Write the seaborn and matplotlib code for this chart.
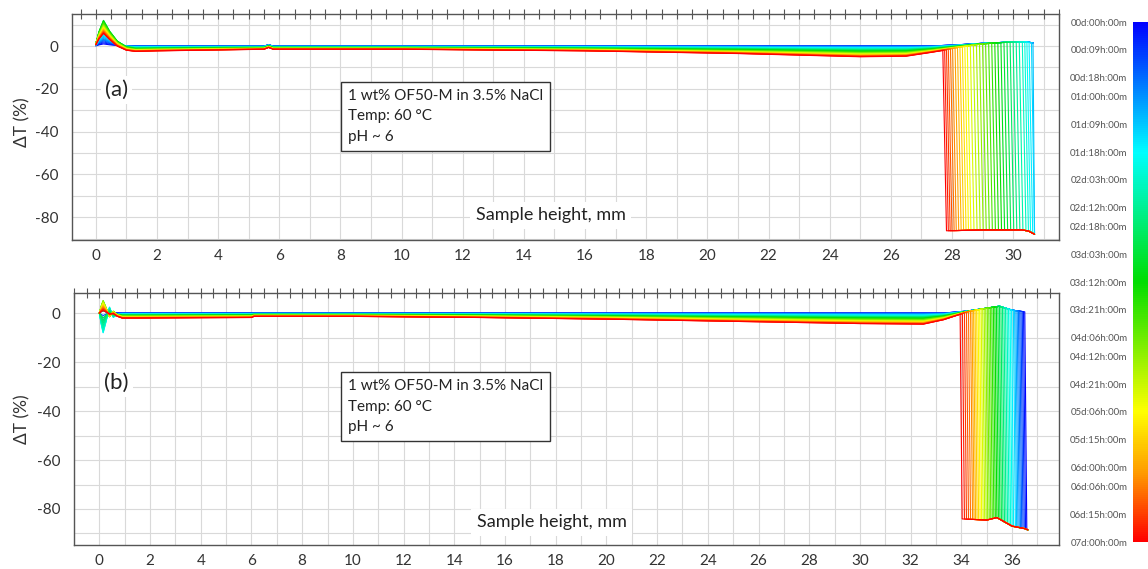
import numpy as np
import pandas as pd
import matplotlib
matplotlib.use("Agg")
import matplotlib.pyplot as plt
import seaborn as sns
from matplotlib.colors import LinearSegmentedColormap, Normalize
from matplotlib.cm import ScalarMappable
from matplotlib.ticker import MultipleLocator, FuncFormatter

# ==========================================
# Data
# ==========================================

# scan times (hours), same for both panels
times = [0, 4, 8, 12, 16, 20, 24, 28, 32, 36, 40, 44, 48, 52, 56, 60, 64, 68, 72, 76, 80,
         84, 88, 92, 96, 100, 104, 108, 112, 116, 120, 124, 128, 132, 136, 140, 144,
         148, 152, 156, 160, 164, 168]

# colorbar
cbar_hours = [0, 9, 18, 24, 33, 42, 51, 60, 66, 75, 84, 93, 102, 108, 117, 126, 135,
              144, 150, 159, 168]
cbar_labels = ["00d:00h:00m", "00d:09h:00m", "00d:18h:00m", "01d:00h:00m", "01d:09h:00m",
               "01d:18h:00m", "02d:03h:00m", "02d:12h:00m", "02d:18h:00m", "03d:03h:00m",
               "03d:12h:00m", "03d:21h:00m", "04d:06h:00m", "04d:12h:00m", "04d:21h:00m",
               "05d:06h:00m", "05d:15h:00m", "06d:00h:00m", "06d:06h:00m", "06d:15h:00m",
               "07d:00h:00m"]

nan = np.nan

# ---- panel (a) ----
# clarification front position (mm) per scan, nan = no front yet
front_a = [nan, nan, nan, nan, nan, nan, nan, nan,
           30.65, 30.6, 30.52, 30.45, 30.38, 30.3, 30.2, 30.1,
           30.0, 29.9, 29.8, 29.7, 29.6, 29.5, 29.4, 29.3, 29.2,
           29.1, 29.0, 28.9, 28.8, 28.7, 28.6, 28.5, 28.42, 28.34,
           28.26, 28.18, 28.1, 28.02, 27.95, 27.88, 27.82, 27.76, 27.7]
# height of the entry peak near 0.25 mm
peak_a = [1, 1.5, 2, 2.5, 3, 3, 3.5, 4,
          4.5, 5, 5.5, 6, 7, 8, 9, 10,
          10.5, 11, 11.5, 12, 12, 11.5, 11, 11, 10.5,
          10, 10, 9.5, 9.5, 9, 9, 8.5, 8.5, 8,
          8, 7.5, 7.5, 7, 7, 6.5, 6.5, 6, 6]
# deepest sag of the baseline around 25 mm
sag_a = [0, 0, 0, 0, -0.1, -0.2, -0.3, -0.5,
         -0.6, -0.8, -0.9, -1.0, -1.2, -1.3, -1.5, -1.6,
         -1.8, -1.9, -2.1, -2.2, -2.4, -2.5, -2.7, -2.8, -3.0,
         -3.1, -3.2, -3.4, -3.5, -3.6, -3.8, -3.9, -4.0, -4.1,
         -4.2, -4.3, -4.4, -4.5, -4.6, -4.7, -4.8, -4.9, -5.0]

# profile shape (a)
knot_x_a = [0.0, 0.1, 0.25, 0.45, 0.7, 1.0, 1.3, 2.0, 5.5, 5.65, 5.8, 10.0, 16.0, 21.0,
            25.0, 26.5, 27.3, 28.2, 29.0, 29.8, 30.4, 30.65]
peak_shape_a = [0.1, 0.55, 1.0, 0.6, 0.25, 0.05, 0, 0, 0, 0, 0, 0, 0, 0,
                0, 0, 0, 0, 0, 0, 0, 0]
sag_shape_a = [0, 0, 0, 0.1, 0.3, 0.45, 0.5, 0.45, 0.3, 0.25, 0.3, 0.3, 0.45, 0.7,
               1.0, 0.95, 0.6, 0.3, 0.1, 0, 0, 0]
bump_a = [0, 0, 0, 0, 0, 0, 0, 0, 0, 0.6, 0, 0, 0, 0,
          0, 0, 0, 0.6, 1.3, 1.8, 2.0, 1.5]
floor_x_a = [27.5, 29.0, 30.3, 30.5, 30.7]
floor_y_a = [-86.5, -86.0, -86.0, -86.5, -88.0]

# ---- panel (b) ----
front_b = [36.5, 36.45, 36.4, 36.35, 36.3, 36.25, 36.2, 36.15,
           36.1, 36.05, 35.98, 35.92, 35.86, 35.8, 35.74, 35.68,
           35.62, 35.56, 35.5, 35.44, 35.38, 35.32, 35.26, 35.2, 35.14,
           35.08, 35.02, 34.96, 34.9, 34.84, 34.78, 34.72, 34.66, 34.6,
           34.54, 34.48, 34.42, 34.36, 34.28, 34.2, 34.12, 34.04, 33.95]
# wiggle at the cell bottom (+ = up, - = down)
osc_b = [1, 1.5, 2, -1, -2, -3, -4, -5,
         -6, -7, -8, -8, -7.5, -7, -6, -5,
         -4, -3, -2, 1, 2, 3, 4, 4.5, 5,
         5, 5, 5, 4.5, 4.5, 4, 4, 3.5, 3.5,
         3, 3, 2.5, 2.5, 2, 2, 1.5, 1.5, 1]
sag_b = [0, 0, 0, -0.1, -0.2, -0.3, -0.4, -0.5,
         -0.6, -0.7, -0.9, -1.0, -1.1, -1.2, -1.4, -1.5,
         -1.6, -1.7, -1.9, -2.0, -2.1, -2.2, -2.4, -2.5, -2.6,
         -2.7, -2.9, -3.0, -3.1, -3.2, -3.3, -3.5, -3.6, -3.7,
         -3.8, -3.9, -4.0, -4.1, -4.2, -4.3, -4.4, -4.5, -4.5]

knot_x_b = [0.0, 0.08, 0.15, 0.25, 0.4, 0.55, 0.7, 0.9, 1.5, 4.0, 6.0, 6.1, 10.0, 15.0,
            20.0, 25.0, 30.0, 32.5, 33.3, 34.2, 35.0, 35.5, 36.0, 36.5, 36.6]
osc_shape_b = [0, 0.6, 1.0, 0.5, -0.3, 0.2, 0.05, 0, 0, 0, 0, 0, 0, 0,
               0, 0, 0, 0, 0, 0, 0, 0, 0, 0, 0]
sag_shape_b = [0, 0, 0, 0, 0, 0.1, 0.3, 0.45, 0.45, 0.42, 0.4, 0.3, 0.3, 0.4,
               0.55, 0.75, 0.95, 1.0, 0.6, 0.1, 0, 0, 0, 0, 0]
bump_b = [0, 0, 0, 0, 0, 0, 0, 0, 0, 0, 0, 0, 0, 0,
          0, 0, 0, 0, 0, 0.8, 2.0, 2.8, 1.2, 0.5, 1.5]
floor_x_b = [33.9, 35.0, 35.4, 36.0, 36.5, 36.62]
floor_y_b = [-84.0, -84.5, -83.5, -87.0, -88.0, -88.5]


# ==========================================
# Build long tables of the profiles
# ==========================================

def build_profile(knot_x, knot_y, front, drop, floor_x, floor_y):
    kx = np.asarray(knot_x, dtype=float)
    ky = np.asarray(knot_y, dtype=float)
    if np.isnan(front):
        return list(kx), list(ky)
    keep = kx < front
    xs = list(kx[keep]) + [front]
    ys = list(ky[keep]) + [np.interp(front, kx, ky)]
    fx = np.asarray(floor_x)
    fy = np.asarray(floor_y)
    x_bot = min(front + drop, fx[-1])
    later = fx > x_bot
    xs += [x_bot] + list(fx[later])
    ys += [np.interp(x_bot, fx, fy)] + list(fy[later])
    return xs, ys


rows_a = []
for t, f, p, s in zip(times, front_a, peak_a, sag_a):
    ky = [p * a + s * b + c for a, b, c in zip(peak_shape_a, sag_shape_a, bump_a)]
    xs, ys = build_profile(knot_x_a, ky, f, 0.12, floor_x_a, floor_y_a)
    rows_a += [(x, y, t) for x, y in zip(xs, ys)]
df_a = pd.DataFrame(rows_a, columns=["x", "y", "t"])

rows_b = []
for t, f, o, s in zip(times, front_b, osc_b, sag_b):
    ky = [o * a + s * b + c for a, b, c in zip(osc_shape_b, sag_shape_b, bump_b)]
    xs, ys = build_profile(knot_x_b, ky, f, 0.08, floor_x_b, floor_y_b)
    rows_b += [(x, y, t) for x, y in zip(xs, ys)]
df_b = pd.DataFrame(rows_b, columns=["x", "y", "t"])

# ==========================================
# Plot
# ==========================================

sns.set_theme(style="white")
plt.rcParams["font.family"] = ["Lato", "DejaVu Sans"]

cmap = LinearSegmentedColormap.from_list(
    "turbi", [(0.0, "#0000ff"), (0.25, "#00ffff"), (0.5, "#00dd00"),
              (0.75, "#ffff00"), (0.87, "#ff9900"), (1.0, "#ff0000")])

fig = plt.figure(figsize=(11.48, 5.69), dpi=100)
ax_a = fig.add_axes([72 / 1148, 1 - 240 / 569, 987 / 1148, 226 / 569])
ax_b = fig.add_axes([74 / 1148, 1 - 545 / 569, 985 / 1148, 252 / 569])

even_fmt = FuncFormatter(lambda v, p: f"{int(round(v))}" if int(round(v)) % 2 == 0 else "")
y_fmt = FuncFormatter(lambda v, p: f"{int(round(v))}" if int(round(v)) % 20 == 0 else "")

panels = [
    (ax_a, df_a, (-0.78, 31.5), (-90.7, 15), "(a)", (0.045, 0.664), (0.280, 0.669), 0.11),
    (ax_b, df_b, (-1.0, 37.85), (-94.7, 8.2), "(b)", (0.043, 0.643), (0.278, 0.659), 0.09),
]

for ax, df, xl, yl, tag, tag_pos, box_pos, lab_y in panels:
    sns.lineplot(data=df, x="x", y="y", hue="t", units="t", estimator=None,
                 palette=cmap, hue_norm=(0, 168), sort=False, legend=False,
                 lw=0.8, ax=ax)
    ax.set_xlim(*xl)
    ax.set_ylim(*yl)
    ax.set_xlabel("")
    ax.set_ylabel("")
    ax.xaxis.set_major_locator(MultipleLocator(1))
    ax.xaxis.set_minor_locator(MultipleLocator(0.5))
    ax.xaxis.set_major_formatter(even_fmt)
    ax.yaxis.set_major_locator(MultipleLocator(10))
    ax.yaxis.set_minor_locator(MultipleLocator(5))
    ax.yaxis.set_major_formatter(y_fmt)
    ax.grid(True, which="major", color="#d9d9d9", lw=0.8)
    ax.set_axisbelow(True)
    ax.tick_params(which="both", direction="inout", length=7, width=0.8, color="#555555",
                   top=True, right=False, labelsize=11, labelcolor="#333333")
    ax.tick_params(axis="x", pad=3)
    ax.tick_params(axis="y", pad=6)
    for sp in ax.spines.values():
        sp.set_color("#555555")
        sp.set_linewidth(1.0)

    ax.text(tag_pos[0], tag_pos[1], tag, transform=ax.transAxes, fontsize=16,
            ha="center", va="center", color="#222222",
            bbox=dict(facecolor="white", edgecolor="none", pad=3))
    ax.text(box_pos[0], box_pos[1], "1 wt% OF50-M in 3.5% NaCl\nTemp: 60 \u00b0C\npH ~ 6",
            transform=ax.transAxes, fontsize=11, ha="left", va="top", linespacing=1.6,
            color="#222222",
            bbox=dict(facecolor="white", edgecolor="#333333", lw=1.0,
                      boxstyle="square,pad=0.45"))
    ax.text(0.485, lab_y, "Sample height, mm", transform=ax.transAxes, fontsize=13,
            ha="center", va="center", color="#222222",
            bbox=dict(facecolor="white", edgecolor="none", pad=4))

fig.text(22 / 1148, 1 - 122 / 569, "\u0394T (%)", rotation=90, ha="center", va="center",
         fontsize=12.5, color="#333333")
fig.text(22 / 1148, 1 - 419 / 569, "\u0394T (%)", rotation=90, ha="center", va="center",
         fontsize=12.5, color="#333333")

# colorbar on the right edge
cax = fig.add_axes([1133 / 1148, 1 - 542 / 569, 15 / 1148, 520 / 569])
cb = fig.colorbar(ScalarMappable(norm=Normalize(0, 168), cmap=cmap), cax=cax)
cb.outline.set_visible(False)
cax.invert_yaxis()
cax.yaxis.set_ticks_position("left")
cb.set_ticks(cbar_hours)
cb.set_ticklabels(cbar_labels)
cax.tick_params(length=0, labelsize=7, labelcolor="#555555", pad=4)

plt.savefig("out.png", dpi=100)
